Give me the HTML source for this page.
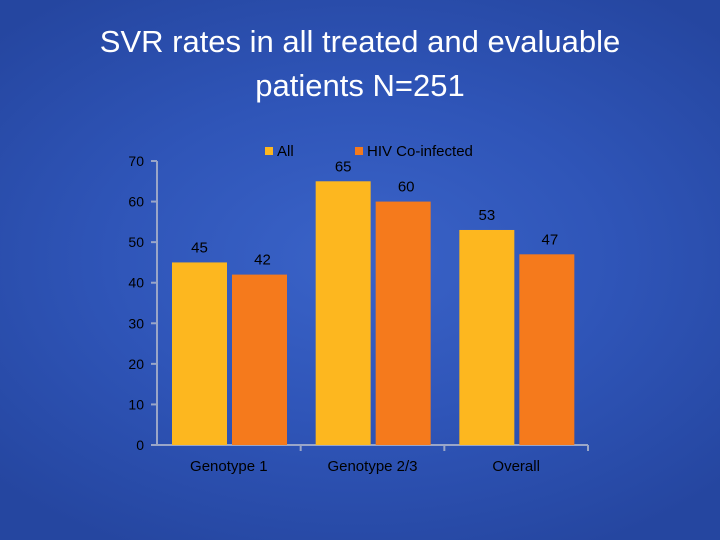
<!DOCTYPE html>
<html><head><meta charset="utf-8"><style>
html,body{margin:0;padding:0;}
body{width:720px;height:540px;overflow:hidden;background:radial-gradient(ellipse 70% 60% at 50% 48%,#3a63c8 0%,#2f55b8 50%,#2546a0 100%);font-family:"Liberation Sans",sans-serif;position:relative;}
#title{position:absolute;top:20px;left:0;width:720px;text-align:center;color:#fff;font-size:31px;line-height:44px;}
svg{position:absolute;left:0;top:0;}
</style></head><body>
<div id="title">SVR rates in all treated and evaluable<br>patients N=251</div>
<svg id="chart" width="720" height="540"></svg>
<script>
const categories=["Genotype 1","Genotype 2/3","Overall"];
const allValues=[45,65,53];
const hivValues=[42,60,47];
const yTicks=[0,10,20,30,40,50,60,70];
const seriesNames=["All","HIV Co-infected"];
const NS="http://www.w3.org/2000/svg";
const svg=document.getElementById('chart');
const x0=157,x1=588,yBase=445,yTop=161,yMax=70;
const y=v=>yBase-(v/yMax)*(yBase-yTop);
const groupW=(x1-x0)/categories.length;
function mk(t,a,txt){const e=document.createElementNS(NS,t);for(const k in a)e.setAttribute(k,a[k]);if(txt!==undefined)e.textContent=txt;svg.appendChild(e);return e;}
let e;
e=mk('line',{x1:x0,y1:yTop,x2:x0,y2:yBase,stroke:'#9aa6c8','stroke-width':2});


e=mk('line',{x1:x0,y1:yBase,x2:x1,y2:yBase,stroke:'#9aa6c8','stroke-width':2});


yTicks.forEach(t=>{
 mk('line',{x1:x0-6,y1:y(t),x2:x0,y2:y(t),stroke:'#9aa6c8','stroke-width':2});
 e=mk('text',{x:x0-13,y:y(t)+5,'text-anchor':'end',fill:'#000','font-size':14},String(t));
 
 
});
categories.forEach((c,i)=>{
 const gx=x0+i*groupW;
 mk('line',{x1:gx+groupW,y1:yBase,x2:gx+groupW,y2:yBase+6,stroke:'#9aa6c8','stroke-width':2});
 e=mk('text',{x:gx+groupW/2,y:471,'text-anchor':'middle',fill:'#000','font-size':15},c);
 
 
 const bw=55;
 [[allValues[i],'#fdb71f',gx+15],[hivValues[i],'#f57a1c',gx+75]].forEach((d,j)=>{
  e=mk('rect',{x:d[2],y:y(d[0]),width:bw,height:yBase-y(d[0]),fill:d[1]});
  
  
  e=mk('text',{x:d[2]+bw/2+ (j?3:0),y:y(d[0])-10,'text-anchor':'middle',fill:'#000','font-size':15},String(d[0]));
  
  
 });
});
[['#fdb71f',265,seriesNames[0]],['#f57a1c',355,seriesNames[1]]].forEach(d=>{
 e=mk('rect',{x:d[1],y:147,width:8,height:8,fill:d[0]});
 
 
 e=mk('text',{x:d[1]+12,y:156,fill:'#000','font-size':15},d[2]);
 
 
});
</script>
</body></html>
